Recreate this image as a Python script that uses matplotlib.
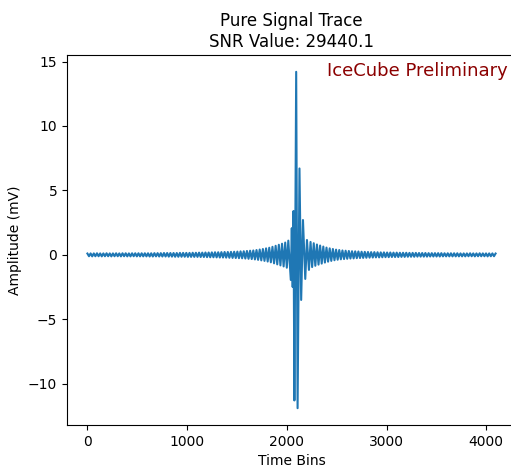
import numpy as np
import matplotlib
matplotlib.use("Agg")
import matplotlib.pyplot as plt

# ---- data: alternating extrema of the trace (mV) ----
# left wing: one extremum every 16 time bins starting at bin 0
bin_step = 16
left_vals = [
    0.10, -0.11, 0.11, -0.12, 0.11, -0.11, 0.12, -0.11,
    0.11, -0.12, 0.11, -0.11, 0.12, -0.11, 0.11, -0.12,
    0.11, -0.11, 0.12, -0.11, 0.11, -0.12, 0.12, -0.11,
    0.12, -0.12, 0.11, -0.12, 0.12, -0.11, 0.12, -0.12,
    0.12, -0.12, 0.12, -0.12, 0.12, -0.12,
    0.12, -0.13, 0.12, -0.13, 0.13, -0.12, 0.13, -0.13,
    0.13, -0.13, 0.14, -0.13, 0.14, -0.14, 0.14, -0.14,
    0.14, -0.15, 0.14, -0.15, 0.15, -0.15, 0.15, -0.15,
    0.15, -0.16, 0.15, -0.16, 0.16, -0.16, 0.16,
    -0.16, 0.17, -0.17, 0.17, -0.17, 0.18, -0.18, 0.18,
    -0.19, 0.19, -0.19, 0.20, -0.20, 0.20, -0.21, 0.21,
    -0.21, 0.22, -0.22,
    0.22, -0.23, 0.23, -0.24, 0.24, -0.25, 0.25, -0.26,
    0.27, -0.27, 0.28, -0.29,
    0.30, -0.31, 0.32, -0.33, 0.34, -0.36, 0.37,
    -0.39, 0.41, -0.43, 0.45, -0.47, 0.50,
    -0.52, 0.55, -0.58, 0.62, -0.66, 0.70,
    -0.74, 0.78, -0.82, 0.86, -0.90,
]

# central burst: explicit bins and values
center_bins = [1984, 2000, 2015, 2040, 2050, 2059, 2067, 2076, 2094,
               2108, 2127, 2144, 2162, 2185, 2202, 2222]
center_vals = [0.95, -1.0, 1.1, -1.95, 2.07, -2.5, 3.4, -11.3, 14.2,
               -11.9, 6.7, -3.5, 2.7, -1.87, 1.15, -1.17]

# right wing: one extremum every 16 bins starting at bin 2238
right_start = 2238
right_vals = [
    1.00, -0.95, 0.90, -0.85, 0.80, -0.76, 0.72, -0.68,
    0.64, -0.60, 0.56, -0.53, 0.50, -0.47, 0.45, -0.42,
    0.40, -0.38, 0.37, -0.35, 0.34, -0.33, 0.32, -0.31,
    0.30, -0.29, 0.28, -0.28, 0.27, -0.26, 0.26, -0.25,
    0.24, -0.24, 0.23, -0.23, 0.22, -0.22, 0.21, -0.21,
    0.21, -0.20, 0.20, -0.20, 0.19, -0.19, 0.19, -0.18,
    0.18, -0.18, 0.18, -0.17, 0.17, -0.17, 0.17, -0.17,
    0.16, -0.16, 0.16, -0.16, 0.16, -0.15, 0.15, -0.15,
    0.15, -0.15, 0.15, -0.14, 0.14, -0.14, 0.14, -0.14,
    0.14, -0.14, 0.13, -0.13, 0.13, -0.13, 0.13, -0.13,
    0.13, -0.13, 0.13, -0.12, 0.12, -0.12, 0.12, -0.12,
    0.12, -0.12, 0.12, -0.12, 0.12, -0.12, 0.11, -0.12,
    0.11, -0.12, 0.11, -0.11, 0.12, -0.11, 0.11, -0.12,
    0.11, -0.11, 0.12, -0.11, 0.11, -0.11, 0.11, -0.12,
    0.11, -0.11, 0.11, -0.11, 0.10,
]

title_text = "Pure Signal Trace\nSNR Value: 29440.1"
watermark = "IceCube Preliminary"
x_label = "Time Bins"
y_label = "Amplitude (mV)"

left_bins = bin_step * np.arange(len(left_vals))
right_bins = right_start + bin_step * np.arange(len(right_vals))
t = np.concatenate([left_bins, center_bins, right_bins])
v = np.concatenate([left_vals, center_vals, right_vals])

fig = plt.figure(figsize=(5.11, 4.68), dpi=100)
ax = fig.add_axes([67 / 511, 43 / 468, 449 / 511, 370 / 468])
ax.plot(t, v, color="#1f77b4", linewidth=1.5)
ax.set_title(title_text, fontsize=12)
ax.set_xlabel(x_label)
ax.set_ylabel(y_label)
ax.text(0.982, 0.98, watermark, transform=ax.transAxes, ha="right", va="top",
        fontsize=13, color="darkred")
fig.savefig("out.png", dpi=100)
